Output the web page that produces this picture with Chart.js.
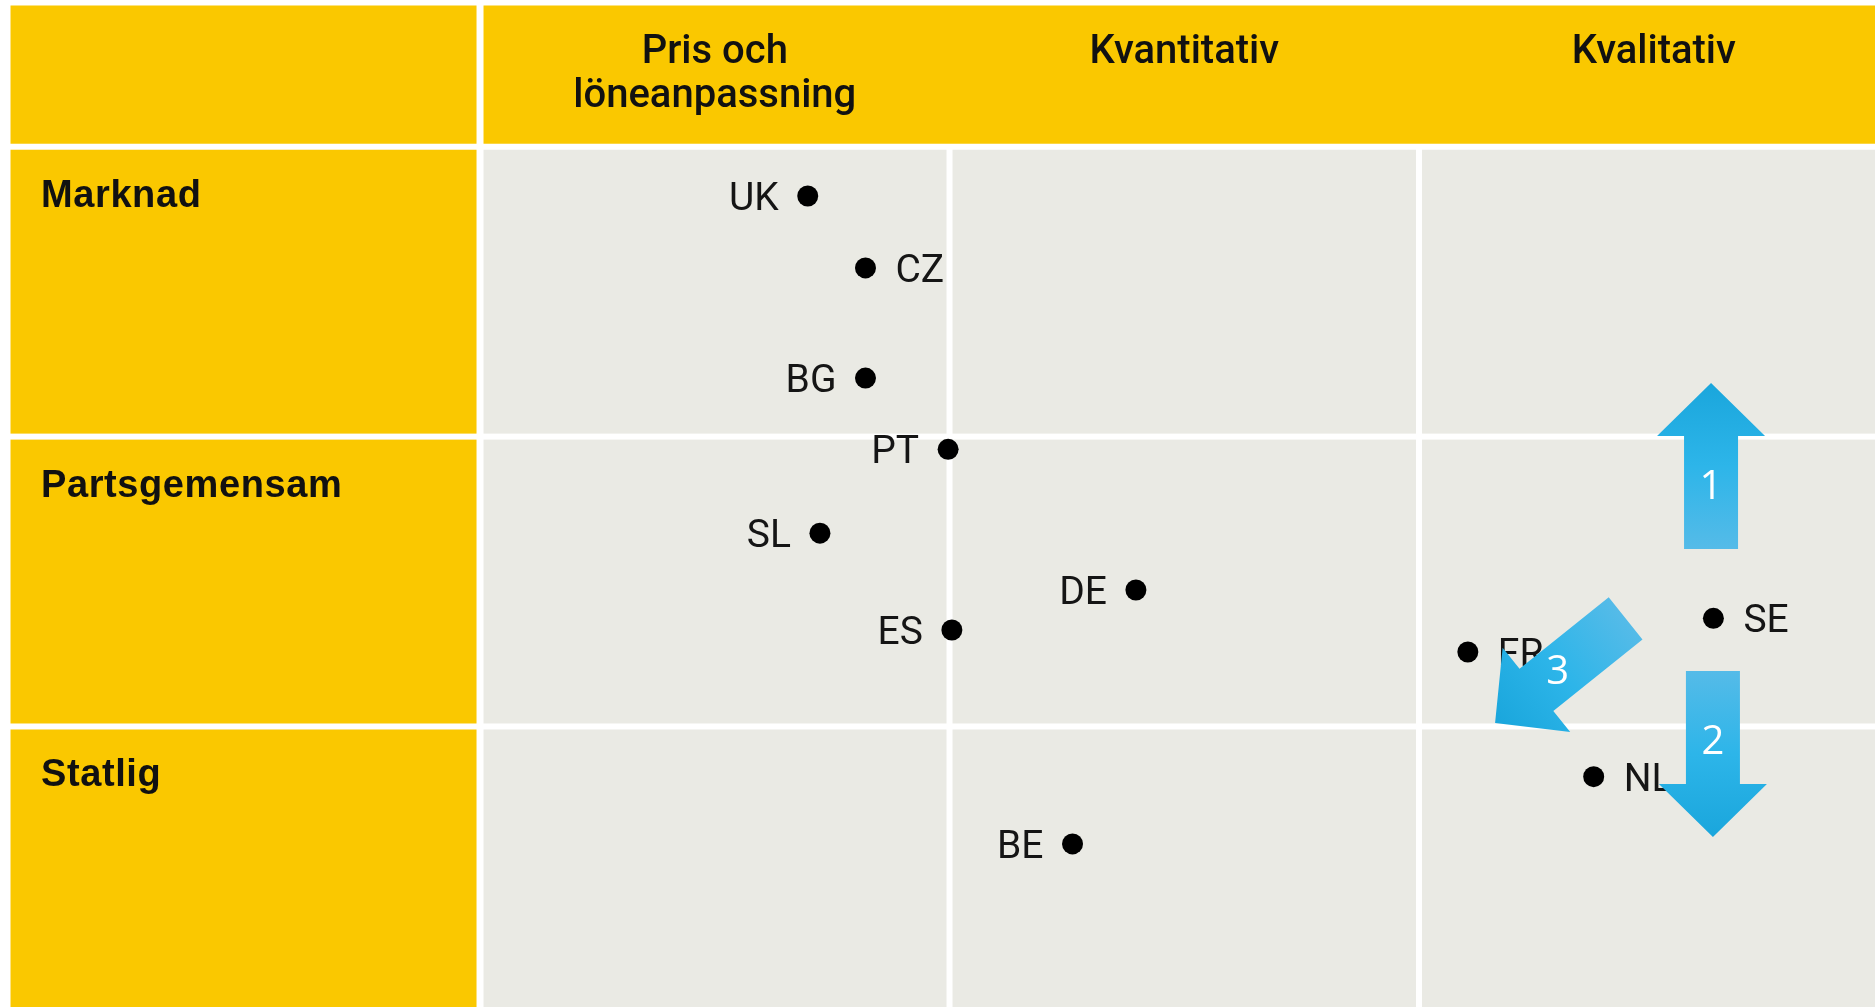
<!DOCTYPE html>
<html>
<head>
<meta charset="utf-8">
<script src="https://cdn.jsdelivr.net/npm/chart.js@4.4.1/dist/chart.umd.min.js"></script>
<style>
  html, body { margin: 0; padding: 0; background: #fff; }
  #wrap { width: 1875px; height: 1007px; }
</style>
</head>
<body>
<div id="wrap"><canvas id="chart" width="1875" height="1007"></canvas></div>
<script>
// Table headings
const COLUMN_LABELS = [ [ 'Pris och', 'löneanpassning' ], [ 'Kvantitativ' ], [ 'Kvalitativ' ] ];
const ROW_LABELS = [ 'Marknad', 'Partsgemensam', 'Statlig' ];

// Countries: x = column position (0..3), y = row position (0..3, top down)
const COUNTRIES = [ 'UK', 'CZ', 'BG', 'PT', 'SL', 'DE', 'ES', 'FR', 'SE', 'NL', 'BE' ];
const COUNTRY_X = [ 0.698, 0.821, 0.821, 0.997, 0.724, 1.397, 1.005, 2.104, 2.627, 2.372, 1.262 ];
const COUNTRY_Y = [ 0.170, 0.418, 0.798, 1.044, 1.333, 1.529, 1.667, 1.743, 1.627, 2.173, 2.405 ];
const LABEL_SIDE = [ 'left', 'right', 'left', 'left', 'left', 'left', 'left', 'right', 'right', 'right', 'left' ];

// Arrows, from tail to tip, in the same column/row units
const ARROW_LABELS = [ '1', '2', '3' ];
const ARROW_FROM_X = [ 2.622, 2.626, 2.440 ];
const ARROW_FROM_Y = [ 1.388, 1.809, 1.627 ];
const ARROW_TO_X = [ 2.622, 2.626, 2.162 ];
const ARROW_TO_Y = [ 0.815, 2.381, 1.988 ];

const YELLOW = '#fac800';
const GREY = '#eaeae4';
const GAP = 6;

// scale ranges chosen so that one column = 469.5px and one row = 289.9px
const X_MIN = -1.0224, X_MAX = 2.9712;
const Y_MIN = -0.5062, Y_MAX = 2.9677;

const tablePlugin = {
	id: 'table',
	beforeDatasetsDraw( chart ) {
		const { ctx, scales: { x, y }, width, height } = chart;
		const px = ( v ) => x.getPixelForValue( v );
		const py = ( v ) => y.getPixelForValue( v );
		const h = GAP / 2;

		ctx.save();
		ctx.fillStyle = '#fff';
		ctx.fillRect( 0, 0, width, height );

		// header band
		const headTop = 5.5;
		ctx.fillStyle = YELLOW;
		ctx.fillRect( px( -1 ), headTop, px( 0 ) - h - 0.5 - px( -1 ), py( 0 ) - h - headTop );
		ctx.fillRect( px( 0 ) + h + 0.5, headTop, width, py( 0 ) - h - headTop );

		// rows
		for ( let r = 0; r < ROW_LABELS.length; r++ ) {
			const top = py( r ) + h;
			const bottom = py( r + 1 ) - h;
			ctx.fillStyle = YELLOW;
			ctx.fillRect( px( -1 ), top, px( 0 ) - h - 0.5 - px( -1 ), bottom - top );
			for ( let c = 0; c < 3; c++ ) {
				const left = px( c ) + h + ( c === 0 ? 0.5 : 0 );
				const right = px( c + 1 ) - h;
				ctx.fillStyle = GREY;
				ctx.fillRect( left, top, right - left, bottom - top );
			}
		}

		// column headings
		ctx.fillStyle = '#111';
		ctx.textAlign = 'center';
		ctx.textBaseline = 'alphabetic';
		ctx.font = '500 40px Roboto';
		COLUMN_LABELS.forEach( ( lines, c ) => {
			lines.forEach( ( line, i ) => {
				ctx.fillText( line, px( c + 0.5 ), py( 0 ) - 84 + i * 44 );
			} );
		} );

		// row headings
		ctx.textAlign = 'left';
		ctx.font = 'bold 38px "Liberation Sans"';
		ctx.letterSpacing = '0.6px';
		ROW_LABELS.forEach( ( label, r ) => {
			ctx.fillText( label, 41, py( r ) + 60 );
		} );
		ctx.letterSpacing = '0px';
		ctx.restore();
	},
	afterDatasetsDraw( chart ) {
		const { ctx, scales: { x, y } } = chart;
		const meta = chart.getDatasetMeta( 0 );

		ctx.save();
		// country labels
		ctx.fillStyle = '#151515';
		ctx.font = '39px Roboto';
		ctx.textBaseline = 'alphabetic';
		meta.data.forEach( ( pt, i ) => {
			const right = LABEL_SIDE[ i ] === 'right';
			ctx.textAlign = right ? 'left' : 'right';
			ctx.fillText( COUNTRIES[ i ], pt.x + ( right ? 30 : -29 ), pt.y + 14 );
		} );

		// arrows
		const shaft = 27, head = 54, headLen = 53;
		const labelAt = [ 0.37, 0.43, 0.52 ];
		ARROW_LABELS.forEach( ( label, i ) => {
			const x0 = x.getPixelForValue( ARROW_FROM_X[ i ] );
			const y0 = y.getPixelForValue( ARROW_FROM_Y[ i ] );
			const x1 = x.getPixelForValue( ARROW_TO_X[ i ] );
			const y1 = y.getPixelForValue( ARROW_TO_Y[ i ] );
			const len = Math.hypot( x1 - x0, y1 - y0 );
			const ang = Math.atan2( y1 - y0, x1 - x0 );

			const grad = ctx.createLinearGradient( x0, y0, x1, y1 );
			grad.addColorStop( 0, '#55bbe8' );
			grad.addColorStop( 0.5, '#2db5e9' );
			grad.addColorStop( 1, '#1aa6dc' );

			ctx.save();
			ctx.translate( x0, y0 );
			ctx.rotate( ang );
			ctx.beginPath();
			ctx.moveTo( 0, -shaft );
			ctx.lineTo( len - headLen, -shaft );
			ctx.lineTo( len - headLen, -head );
			ctx.lineTo( len, 0 );
			ctx.lineTo( len - headLen, head );
			ctx.lineTo( len - headLen, shaft );
			ctx.lineTo( 0, shaft );
			ctx.closePath();
			ctx.restore();
			ctx.fillStyle = grad;
			ctx.fill();

			const t = labelAt[ i ];
			ctx.fillStyle = '#fff';
			ctx.font = '40px "Open Sans"';
			ctx.textAlign = 'center';
			ctx.textBaseline = 'middle';
			ctx.fillText( label, x0 + ( x1 - x0 ) * t, y0 + ( y1 - y0 ) * t );
		} );
		ctx.restore();
	},
};

new Chart( document.getElementById( 'chart' ), {
	type: 'scatter',
	data: {
		datasets: [
			{
				data: COUNTRIES.map( ( c, i ) => ( { x: COUNTRY_X[ i ], y: COUNTRY_Y[ i ] } ) ),
				pointRadius: 10.5,
				pointHoverRadius: 10.5,
				pointBackgroundColor: '#000',
				pointBorderWidth: 0,
			},
		],
	},
	options: {
		responsive: false,
		devicePixelRatio: 1,
		animation: false,
		events: [],
		layout: { padding: 0, autoPadding: false },
		plugins: { legend: { display: false }, tooltip: { enabled: false } },
		scales: {
			x: { type: 'linear', min: X_MIN, max: X_MAX, display: false },
			y: { type: 'linear', min: Y_MIN, max: Y_MAX, reverse: true, display: false },
		},
	},
	plugins: [ tablePlugin ],
} );
</script>
</body>
</html>
